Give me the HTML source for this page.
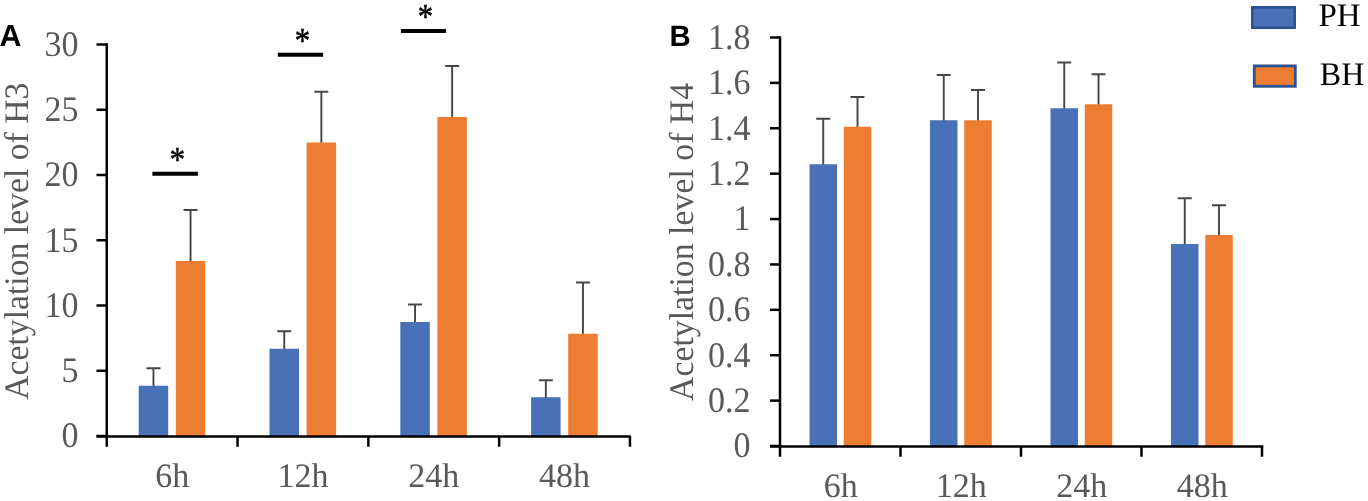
<!DOCTYPE html>
<html lang="en"><head><meta charset="utf-8"><title>Acetylation levels of H3 and H4</title>
<style>
html,body{margin:0;padding:0;background:#fff;}
body{width:1368px;height:501px;overflow:hidden;}
svg{display:block;text-rendering:geometricPrecision;}
.t{font-family:"Liberation Serif","Times New Roman",serif;font-size:34px;fill:#595959;}
.s{font-family:"Liberation Serif","Times New Roman",serif;font-size:33px;fill:#000;}
.k{font-family:"Liberation Serif","Times New Roman",serif;font-size:33px;fill:#000;}
.l{font-family:"Liberation Sans",Arial,sans-serif;font-size:30.4px;font-weight:bold;fill:#000;}
</style></head><body>
<svg width="1368" height="501" viewBox="0 0 1368 501">
<rect width="1368" height="501" fill="#fff"/>
<path d="M153.45 386.75V368.25M146.45 368.25H160.45" stroke="#464646" stroke-width="1.9" fill="none"/>
<path d="M190.55 262.0V210.0M183.55 210.0H197.55" stroke="#464646" stroke-width="1.9" fill="none"/>
<rect x="138.7" y="385.75" width="29.50" height="50.25" fill="#4971B8"/>
<rect x="175.8" y="261.0" width="29.50" height="175.00" fill="#ED7D31"/>
<path d="M284.25 349.75V331.25M277.25 331.25H291.25" stroke="#464646" stroke-width="1.9" fill="none"/>
<path d="M321.35 143.5V91.75M314.35 91.75H328.35" stroke="#464646" stroke-width="1.9" fill="none"/>
<rect x="269.5" y="348.75" width="29.50" height="87.25" fill="#4971B8"/>
<rect x="306.6" y="142.5" width="29.50" height="293.50" fill="#ED7D31"/>
<path d="M415.05 323.0V304.5M408.05 304.5H422.05" stroke="#464646" stroke-width="1.9" fill="none"/>
<path d="M452.15 118.0V66.0M445.15 66.0H459.15" stroke="#464646" stroke-width="1.9" fill="none"/>
<rect x="400.3" y="322.0" width="29.50" height="114.00" fill="#4971B8"/>
<rect x="437.4" y="117.0" width="29.50" height="319.00" fill="#ED7D31"/>
<path d="M545.85 398.25V380.25M538.85 380.25H552.85" stroke="#464646" stroke-width="1.9" fill="none"/>
<path d="M582.95 334.75V282.5M575.95 282.5H589.95" stroke="#464646" stroke-width="1.9" fill="none"/>
<rect x="531.1" y="397.25" width="29.50" height="38.75" fill="#4971B8"/>
<rect x="568.2" y="333.75" width="29.50" height="102.25" fill="#ED7D31"/>
<path d="M106.75 43.25V446.75" stroke="#000" stroke-width="2.5" fill="none"/>
<path d="M96.5 436.5H630.75" stroke="#000" stroke-width="2.4" fill="none"/>
<path d="M96.5 436.0H106.75" stroke="#000" stroke-width="2.5" fill="none"/>
<text transform="translate(78.5 447.40) scale(1 1.06)" text-anchor="end" class="t">0</text>
<path d="M96.5 370.75H106.75" stroke="#000" stroke-width="2.5" fill="none"/>
<text transform="translate(78.5 382.15) scale(1 1.06)" text-anchor="end" class="t">5</text>
<path d="M96.5 305.5H106.75" stroke="#000" stroke-width="2.5" fill="none"/>
<text transform="translate(78.5 316.90) scale(1 1.06)" text-anchor="end" class="t">10</text>
<path d="M96.5 240.25H106.75" stroke="#000" stroke-width="2.5" fill="none"/>
<text transform="translate(78.5 251.65) scale(1 1.06)" text-anchor="end" class="t">15</text>
<path d="M96.5 175.0H106.75" stroke="#000" stroke-width="2.5" fill="none"/>
<text transform="translate(78.5 186.40) scale(1 1.06)" text-anchor="end" class="t">20</text>
<path d="M96.5 109.75H106.75" stroke="#000" stroke-width="2.5" fill="none"/>
<text transform="translate(78.5 121.15) scale(1 1.06)" text-anchor="end" class="t">25</text>
<path d="M96.5 44.5H106.75" stroke="#000" stroke-width="2.5" fill="none"/>
<text transform="translate(78.5 55.90) scale(1 1.06)" text-anchor="end" class="t">30</text>
<path d="M237.55 436.0V446.75" stroke="#000" stroke-width="2.5" fill="none"/>
<path d="M368.35 436.0V446.75" stroke="#000" stroke-width="2.5" fill="none"/>
<path d="M499.15 436.0V446.75" stroke="#000" stroke-width="2.5" fill="none"/>
<path d="M629.95 436.0V446.75" stroke="#000" stroke-width="2.5" fill="none"/>
<text transform="translate(172.15 486.9) scale(1 1.01)" text-anchor="middle" class="t">6h</text>
<text transform="translate(302.95 486.9) scale(1 1.01)" text-anchor="middle" class="t">12h</text>
<text transform="translate(433.75 486.9) scale(1 1.01)" text-anchor="middle" class="t">24h</text>
<text transform="translate(564.55 486.9) scale(1 1.01)" text-anchor="middle" class="t">48h</text>
<path d="M152.4 173.7H197.9" stroke="#000" stroke-width="4.0" fill="none"/>
<text transform="translate(177.3 170.70) scale(0.93 1.06)" text-anchor="middle" class="s" stroke="#000" stroke-width="0.5">*</text>
<path d="M277.8 54.75H323.1" stroke="#000" stroke-width="4.0" fill="none"/>
<text transform="translate(302.5 51.75) scale(0.93 1.06)" text-anchor="middle" class="s" stroke="#000" stroke-width="0.5">*</text>
<path d="M400.9 31.0H446.1" stroke="#000" stroke-width="4.0" fill="none"/>
<text transform="translate(425.4 28.00) scale(0.93 1.06)" text-anchor="middle" class="s" stroke="#000" stroke-width="0.5">*</text>
<text transform="translate(28 399.8) rotate(-90) scale(1 1.02)" class="t" style="font-size:33.7px">Acetylation level of H3</text>
<text x="-0.4" y="46" class="l">A</text>
<path d="M823.25 165.25V118.75M816.25 118.75H830.25" stroke="#464646" stroke-width="1.9" fill="none"/>
<path d="M857.5 127.75V97.0M850.5 97.0H864.5" stroke="#464646" stroke-width="1.9" fill="none"/>
<rect x="809.5" y="164.25" width="27.50" height="281.75" fill="#4971B8"/>
<rect x="843.75" y="126.75" width="27.50" height="319.25" fill="#ED7D31"/>
<path d="M943.75 121.25V75.0M936.75 75.0H950.75" stroke="#464646" stroke-width="1.9" fill="none"/>
<path d="M978.0 121.25V90.0M971.0 90.0H985.0" stroke="#464646" stroke-width="1.9" fill="none"/>
<rect x="930.0" y="120.25" width="27.50" height="325.75" fill="#4971B8"/>
<rect x="964.25" y="120.25" width="27.50" height="325.75" fill="#ED7D31"/>
<path d="M1064.25 109.25V62.5M1057.25 62.5H1071.25" stroke="#464646" stroke-width="1.9" fill="none"/>
<path d="M1098.5 105.25V74.25M1091.5 74.25H1105.5" stroke="#464646" stroke-width="1.9" fill="none"/>
<rect x="1050.5" y="108.25" width="27.50" height="337.75" fill="#4971B8"/>
<rect x="1084.75" y="104.25" width="27.50" height="341.75" fill="#ED7D31"/>
<path d="M1184.75 245.0V198.25M1177.75 198.25H1191.75" stroke="#464646" stroke-width="1.9" fill="none"/>
<path d="M1219.0 236.0V205.25M1212.0 205.25H1226.0" stroke="#464646" stroke-width="1.9" fill="none"/>
<rect x="1171.0" y="244.0" width="27.50" height="202.00" fill="#4971B8"/>
<rect x="1205.25" y="235.0" width="27.50" height="211.00" fill="#ED7D31"/>
<path d="M780.0 36.24V456.75" stroke="#000" stroke-width="2.5" fill="none"/>
<path d="M770.0 446.5H1263.25" stroke="#000" stroke-width="2.4" fill="none"/>
<path d="M770.0 446.00H780.0" stroke="#000" stroke-width="2.5" fill="none"/>
<text transform="translate(750.5 457.40) scale(1 1.06)" text-anchor="end" class="t">0</text>
<path d="M770.0 400.61H780.0" stroke="#000" stroke-width="2.5" fill="none"/>
<text transform="translate(750.5 412.01) scale(1 1.06)" text-anchor="end" class="t">0.2</text>
<path d="M770.0 355.22H780.0" stroke="#000" stroke-width="2.5" fill="none"/>
<text transform="translate(750.5 366.62) scale(1 1.06)" text-anchor="end" class="t">0.4</text>
<path d="M770.0 309.83H780.0" stroke="#000" stroke-width="2.5" fill="none"/>
<text transform="translate(750.5 321.23) scale(1 1.06)" text-anchor="end" class="t">0.6</text>
<path d="M770.0 264.44H780.0" stroke="#000" stroke-width="2.5" fill="none"/>
<text transform="translate(750.5 275.84) scale(1 1.06)" text-anchor="end" class="t">0.8</text>
<path d="M770.0 219.05H780.0" stroke="#000" stroke-width="2.5" fill="none"/>
<text transform="translate(750.5 230.45) scale(1 1.06)" text-anchor="end" class="t">1</text>
<path d="M770.0 173.66H780.0" stroke="#000" stroke-width="2.5" fill="none"/>
<text transform="translate(750.5 185.06) scale(1 1.06)" text-anchor="end" class="t">1.2</text>
<path d="M770.0 128.27H780.0" stroke="#000" stroke-width="2.5" fill="none"/>
<text transform="translate(750.5 139.67) scale(1 1.06)" text-anchor="end" class="t">1.4</text>
<path d="M770.0 82.88H780.0" stroke="#000" stroke-width="2.5" fill="none"/>
<text transform="translate(750.5 94.28) scale(1 1.06)" text-anchor="end" class="t">1.6</text>
<path d="M770.0 37.49H780.0" stroke="#000" stroke-width="2.5" fill="none"/>
<text transform="translate(750.5 48.89) scale(1 1.06)" text-anchor="end" class="t">1.8</text>
<path d="M900.50 446.0V456.75" stroke="#000" stroke-width="2.5" fill="none"/>
<path d="M1021.00 446.0V456.75" stroke="#000" stroke-width="2.5" fill="none"/>
<path d="M1141.50 446.0V456.75" stroke="#000" stroke-width="2.5" fill="none"/>
<path d="M1262.00 446.0V456.75" stroke="#000" stroke-width="2.5" fill="none"/>
<text transform="translate(840.75 496.8) scale(1 1.01)" text-anchor="middle" class="t">6h</text>
<text transform="translate(961.25 496.8) scale(1 1.01)" text-anchor="middle" class="t">12h</text>
<text transform="translate(1081.75 496.8) scale(1 1.01)" text-anchor="middle" class="t">24h</text>
<text transform="translate(1202.25 496.8) scale(1 1.01)" text-anchor="middle" class="t">48h</text>
<text transform="translate(692.6 401) rotate(-90) scale(1 1.02)" class="t" style="font-size:33.8px">Acetylation level of H4</text>
<text x="669.6" y="46" class="l" style="font-size:29.4px">B</text>
<rect x="1252.3" y="7.3" width="42.4" height="20.4" fill="#4971B8" stroke="#2D5294" stroke-width="2.6"/>
<rect x="1254.3" y="65.9" width="41" height="20.4" fill="#ED7D31" stroke="#2D5294" stroke-width="2.8"/>
<text x="1318.5" y="26.2" class="k">PH</text>
<text transform="translate(1319.8 84.5) scale(0.97 1)" class="k">BH</text>
</svg>
</body></html>
